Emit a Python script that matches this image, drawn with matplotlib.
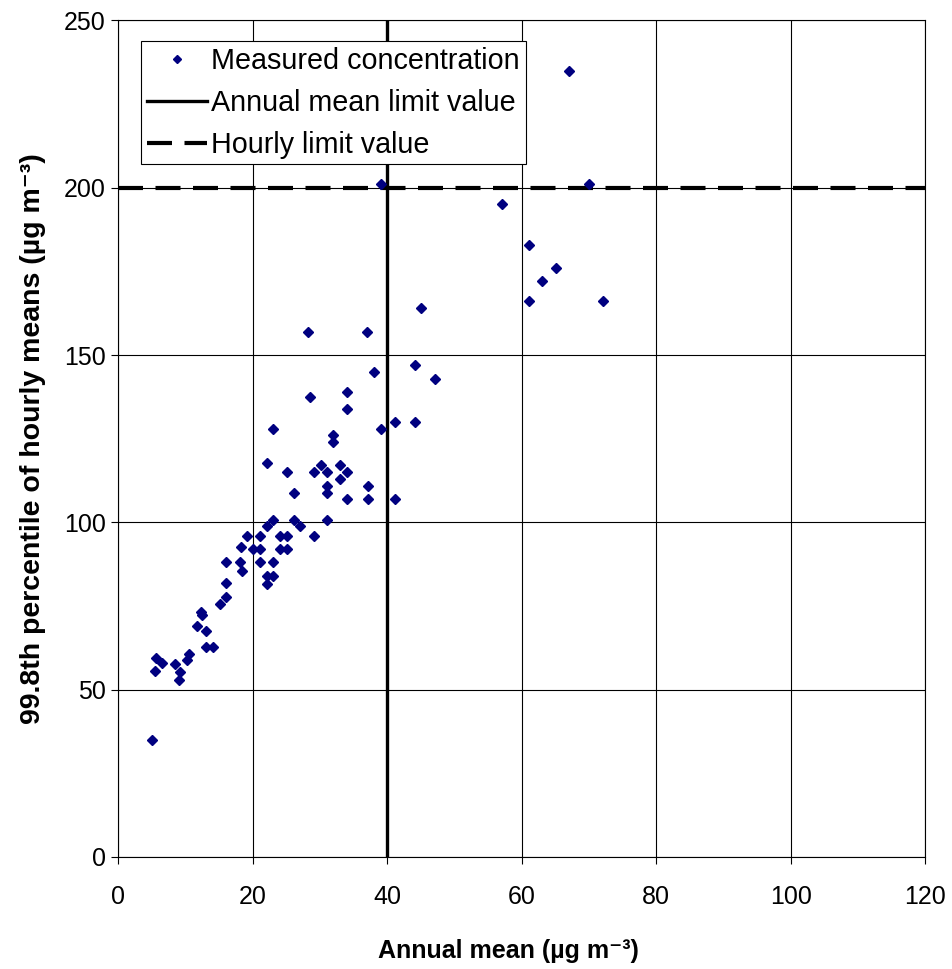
import matplotlib
matplotlib.use('Agg')
import matplotlib.pyplot as plt

plt.rcParams['font.family'] = ['Liberation Sans', 'DejaVu Sans']

# annual mean vs 99.8th percentile of hourly means, per station
annual_mean = [5, 5.5, 5.7, 6.5, 8.4, 9.2, 9.1, 10.2, 10.5, 13, 14.1, 11.75, 13,
               12.3, 12.5, 15.1, 16.1, 16.1, 16.1, 18.1, 18.45, 18.35, 19.1, 20.1,
               21.1, 21.1, 21.1, 22.1, 23.1, 23.1, 22.1, 23.1, 22.1, 24.1, 25.1,
               24.1, 25.1, 26.1, 27.1, 29.2, 31, 26.1, 25.1, 22.1, 23.1, 28.5,
               28.3, 29.1, 30.1, 31, 31, 31, 32, 32, 33, 34.1, 33, 34.1, 34.1,
               34.1, 37.1, 37.1, 37, 38.1, 39.1, 41.1, 41.1, 44.1, 44.1, 47.1,
               45, 39.1, 57.1, 61.1, 65.1, 63, 61.1, 72.1, 70, 67]
p998 = [35, 55.5, 59.6, 58, 57.6, 55.3, 53, 58.8, 60.8, 62.8, 62.8, 69, 67.6,
        73.3, 72.3, 75.7, 77.7, 82, 88, 88, 85.5, 92.5, 96, 92,
        92, 96, 88, 99, 100.8, 88, 84, 84, 81.7, 96, 96,
        92, 92, 100.8, 99, 96, 100.8, 108.8, 115, 117.7, 128, 137.5,
        157, 115, 117, 115, 111, 108.8, 126, 124, 117, 115, 113, 139, 134,
        107, 111, 107, 157, 145, 128, 130, 107, 147, 130, 142.8,
        164, 201, 195, 183, 176, 172, 166, 166, 201, 235]

annual_limit = 40
hourly_limit = 200

fig = plt.figure(figsize=(9.52, 9.69), dpi=100)
ax = fig.add_axes([0.124, 0.1156, 0.848, 0.8634])

ax.grid(True, color='black', linewidth=0.8)
ax.set_axisbelow(True)

ax.plot(annual_mean, p998, linestyle='none', marker='D', markersize=5.5,
        color='#000080', label='Measured concentration', zorder=3)
ax.axvline(annual_limit, color='black', linewidth=2.4,
           label='Annual mean limit value', zorder=2)
ax.axhline(hourly_limit, color='black', linewidth=3, dashes=(6, 3),
           label='Hourly limit value', zorder=2)

ax.set_xlim(0, 120)
ax.set_ylim(0, 250)
ax.set_xticks(range(0, 121, 20))
ax.set_yticks(range(0, 251, 50))
ax.tick_params(labelsize=18, length=5, width=0.8)
ax.tick_params(axis='x', pad=15)
ax.tick_params(axis='y', pad=4)

for s in ax.spines.values():
    s.set_linewidth(0.8)

ax.set_xlabel('Annual mean (µg m⁻³)', fontsize=18, fontweight='bold')
ax.xaxis.set_label_coords(0.483, -0.098)
ax.set_ylabel('99.8th percentile of hourly means (µg m⁻³)',
              fontsize=20.5, fontweight='bold', labelpad=13)

leg = ax.legend(loc='upper left', bbox_to_anchor=(0.0285, 0.975), fontsize=20.7,
                fancybox=False, framealpha=1, edgecolor='black',
                borderpad=0.2, handlelength=2.1, handletextpad=0.15,
                labelspacing=0.48, borderaxespad=0, markerscale=0.8)
leg.get_frame().set_linewidth(0.8)

fig.savefig('out.png', dpi=100)
